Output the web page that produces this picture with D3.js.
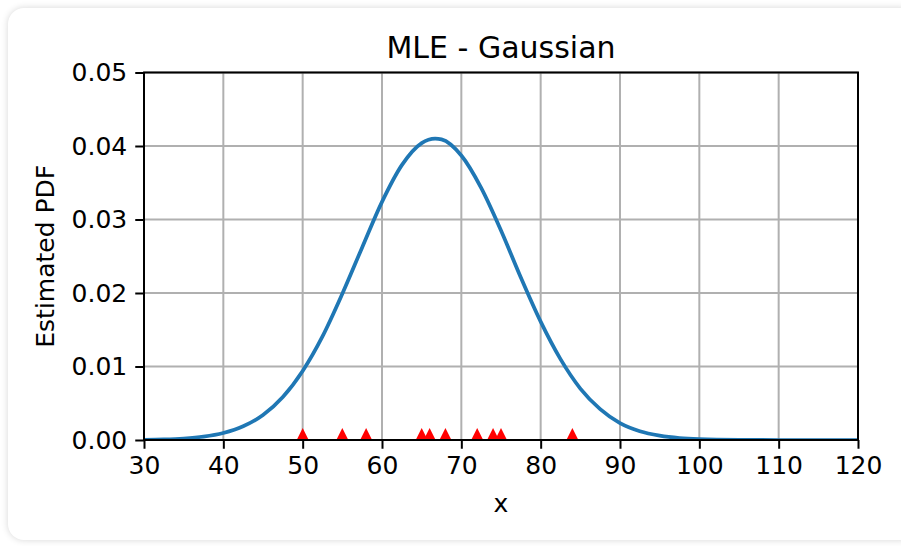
<!DOCTYPE html>
<html>
<head>
<meta charset="utf-8">
<script src="https://cdn.jsdelivr.net/npm/d3@7"></script>
<style>
  body { margin: 0; background: #ffffff; width: 901px; height: 546px; overflow: hidden; position: relative; }
  #card {
    position: absolute; left: 8px; top: 8px; width: 910px; height: 532px;
    background: #fff; border-radius: 16px;
    box-shadow: 0 0 7px rgba(0,0,0,0.16);
  }
  svg { position: absolute; left: 0; top: 0; font-family: "DejaVu Sans", sans-serif; }
</style>
</head>
<body>
<div id="card"></div>
<svg id="chart"></svg>
<script>
// observed samples (red triangles on the x axis)
const samples = [50, 55, 58, 65, 66, 68, 72, 74, 75, 84];

// fitted Gaussian curve
const curveX = [30, 32.5, 35, 37.5, 40, 42.5, 45, 47.5, 50, 52.5, 55, 57.5, 60, 62.5, 65, 66.7, 67.5,
                70, 72.5, 75, 77.5, 80, 82.5, 85, 87.5, 90, 92.5, 95, 97.5, 100, 105, 110, 115, 120];
const curveY = [0.00003, 0.00008, 0.0002, 0.00045, 0.00095, 0.00186, 0.0034, 0.00585, 0.0094, 0.0141,
                0.0199, 0.0262, 0.0324, 0.0374, 0.0404, 0.0410, 0.0409, 0.0387, 0.0343, 0.0285,
                0.0221, 0.0161, 0.0110, 0.0070, 0.0042, 0.0023, 0.0012, 0.0006, 0.00027, 0.00012,
                0.00002, 0, 0, 0];

const xTicks = [30, 40, 50, 60, 70, 80, 90, 100, 110, 120];
const yTicks = [0, 0.01, 0.02, 0.03, 0.04, 0.05];

const W = 901, H = 546;
const margin = { top: 72.5, right: 43, bottom: 106, left: 144 };
const width = W - margin.left - margin.right;
const height = H - margin.top - margin.bottom;

const svg = d3.select("#chart").attr("width", W).attr("height", H);

const g = svg.append("g").attr("transform", `translate(${margin.left},${margin.top})`);

const x = d3.scaleLinear().domain([30, 120]).range([0, width]);
const y = d3.scaleLinear().domain([0, 0.05]).range([height, 0]);

// clip for plot contents
svg.append("defs").append("clipPath").attr("id", "plotclip")
    .append("rect").attr("width", width).attr("height", height);

// grid
g.append("g")
    .selectAll("line")
    .data(xTicks)
    .join("line")
    .attr("x1", d => x(d)).attr("x2", d => x(d))
    .attr("y1", 0).attr("y2", height)
    .attr("stroke", "#b0b0b0").attr("stroke-width", 2);

g.append("g")
    .selectAll("line")
    .data(yTicks)
    .join("line")
    .attr("x1", 0).attr("x2", width)
    .attr("y1", d => y(d)).attr("y2", d => y(d))
    .attr("stroke", "#b0b0b0").attr("stroke-width", 2);

const plot = g.append("g").attr("clip-path", "url(#plotclip)");

// curve
const pts = curveX.map((v, i) => [v, curveY[i]]);
plot.append("path")
    .datum(pts)
    .attr("fill", "none")
    .attr("stroke", "#1f77b4")
    .attr("stroke-width", 3.75)
    .attr("stroke-linejoin", "round")
    .attr("d", d3.line().x(d => x(d[0])).y(d => y(d[1])).curve(d3.curveMonotoneX));

// triangle markers at y = 0 (half clipped by the axes, like matplotlib)
const tri = 12;
plot.append("g")
    .selectAll("path")
    .data(samples)
    .join("path")
    .attr("fill", "red")
    .attr("d", d => {
        const cx = x(d), cy = y(0);
        return `M${cx},${cy - tri}L${cx - tri},${cy + tri}L${cx + tri},${cy + tri}Z`;
    });

// axes
const xAxis = g.append("g")
    .attr("transform", `translate(0,${height})`)
    .call(d3.axisBottom(x).tickValues(xTicks).tickSize(8.75).tickPadding(7).tickFormat(d3.format("d")));
const yAxis = g.append("g")
    .call(d3.axisLeft(y).tickValues(yTicks).tickSize(8.75).tickPadding(8).tickFormat(d3.format(".2f")));

[xAxis, yAxis].forEach(a => {
    a.select(".domain").remove();
    a.selectAll(".tick line").attr("stroke", "#000").attr("stroke-width", 2);
    a.selectAll(".tick text").attr("fill", "#000").attr("font-size", 25)
        .attr("font-family", "DejaVu Sans, sans-serif");
});

// spines
g.append("rect")
    .attr("width", width).attr("height", height)
    .attr("fill", "none").attr("stroke", "#000").attr("stroke-width", 2);

// title and labels
svg.append("text")
    .attr("x", margin.left + width / 2).attr("y", 58)
    .attr("text-anchor", "middle").attr("font-size", 30)
    .text("MLE - Gaussian");

svg.append("text")
    .attr("x", margin.left + width / 2).attr("y", 512)
    .attr("text-anchor", "middle").attr("font-size", 25)
    .text("x");

svg.append("text")
    .attr("transform", `translate(54,${margin.top + height / 2}) rotate(-90)`)
    .attr("text-anchor", "middle").attr("font-size", 25)
    .text("Estimated PDF");
</script>
</body>
</html>
